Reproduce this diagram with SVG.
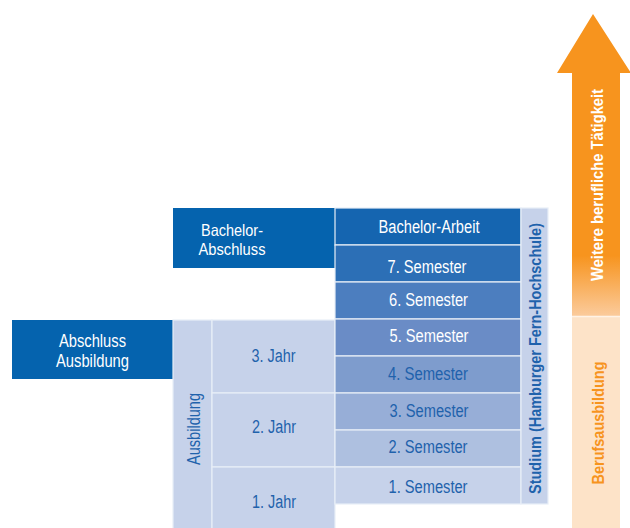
<svg xmlns="http://www.w3.org/2000/svg" width="630" height="528" viewBox="0 0 630 528">
<defs>
<linearGradient id="og" x1="0" y1="14" x2="0" y2="316" gradientUnits="userSpaceOnUse">
<stop offset="0" stop-color="#F7941E"/>
<stop offset="0.8" stop-color="#F7941E"/>
<stop offset="1" stop-color="#FBCB9C"/>
</linearGradient>
<style>
text{font-family:"Liberation Sans",Arial,sans-serif;font-size:18px;text-anchor:middle}
.w{fill:#FFFFFF}
.b{fill:#1F62AC}
.bold{font-weight:bold;font-size:16.5px}
.sm{font-size:16.5px}
.cell{stroke:#E8EEF7;stroke-width:1.2}
.dark{fill:#0563AE}
.light{fill:#C6D2EA}
</style>
</defs>
<rect width="630" height="528" fill="#FFFFFF"/>

<g id="arrow">
<polygon points="593,14 631,73 620,73 620,316 572,316 572,73 557,73" fill="url(#og)"/>
<rect x="572" y="317" width="48" height="211" fill="#FDE3C8"/>
<line x1="572" y1="316.5" x2="620" y2="316.5" stroke="#FFF3E6" stroke-width="1.5"/>
<text class="w bold" transform="translate(602.5,185) rotate(-90)" textLength="192" lengthAdjust="spacingAndGlyphs">Weitere berufliche Tätigkeit</text>
<text class="bold" fill="#F7941E" transform="translate(603.5,423) rotate(-90)" textLength="123" lengthAdjust="spacingAndGlyphs">Berufsausbildung</text>
</g>

<g id="bachelor-abschluss">
<rect class="dark" x="173" y="208" width="162" height="60"/>
<text class="w sm" x="232" y="235.5" textLength="62" lengthAdjust="spacingAndGlyphs">Bachelor-</text>
<text class="w sm" x="232" y="254.5" textLength="67" lengthAdjust="spacingAndGlyphs">Abschluss</text>
</g>

<g id="abschluss-ausbildung">
<rect class="dark" x="12" y="320" width="161" height="59"/>
<text class="w" x="92.5" y="346.7" textLength="67" lengthAdjust="spacingAndGlyphs">Abschluss</text>
<text class="w" x="92.5" y="366.7" textLength="73" lengthAdjust="spacingAndGlyphs">Ausbildung</text>
</g>

<g id="ausbildung">
<rect class="light cell" x="173" y="320" width="39" height="210"/>
<text class="b" transform="translate(199.5,429) rotate(-90)" textLength="72" lengthAdjust="spacingAndGlyphs">Ausbildung</text>
</g>

<g id="jahr3">
<rect class="light cell" x="212" y="320" width="123" height="73"/>
<text class="b" x="273.5" y="361.7" textLength="44" lengthAdjust="spacingAndGlyphs">3. Jahr</text>
</g>
<g id="jahr2">
<rect class="light cell" x="212" y="393" width="123" height="74"/>
<text class="b" x="274" y="433.3" textLength="44" lengthAdjust="spacingAndGlyphs">2. Jahr</text>
</g>
<g id="jahr1">
<rect class="light cell" x="212" y="467" width="123" height="63"/>
<text class="b" x="274" y="508.3" textLength="44" lengthAdjust="spacingAndGlyphs">1. Jahr</text>
</g>

<g id="bachelor-arbeit">
<rect class="cell" fill="#1565B0" x="335" y="208" width="186" height="37"/>
<text class="w" x="429" y="232.7" textLength="101" lengthAdjust="spacingAndGlyphs">Bachelor-Arbeit</text>
</g>
<g id="sem7">
<rect class="cell" fill="#2C6FB6" x="335" y="245" width="186" height="37"/>
<text class="w" x="427" y="272.7" textLength="79" lengthAdjust="spacingAndGlyphs">7. Semester</text>
</g>
<g id="sem6">
<rect class="cell" fill="#4C7EBF" x="335" y="282" width="186" height="37"/>
<text class="w" x="428.5" y="306" textLength="79" lengthAdjust="spacingAndGlyphs">6. Semester</text>
</g>
<g id="sem5">
<rect class="cell" fill="#6A8CC6" x="335" y="319" width="186" height="37"/>
<text class="w" x="429" y="341.7" textLength="79" lengthAdjust="spacingAndGlyphs">5. Semester</text>
</g>
<g id="sem4">
<rect class="cell" fill="#7E9CCD" x="335" y="356" width="186" height="37"/>
<text class="b" x="428" y="380" textLength="80" lengthAdjust="spacingAndGlyphs">4. Semester</text>
</g>
<g id="sem3">
<rect class="cell" fill="#97AED7" x="335" y="393" width="186" height="37"/>
<text class="b" x="429" y="417.3" textLength="79" lengthAdjust="spacingAndGlyphs">3. Semester</text>
</g>
<g id="sem2">
<rect class="cell" fill="#AEC0E0" x="335" y="430" width="186" height="37"/>
<text class="b" x="428" y="453" textLength="79" lengthAdjust="spacingAndGlyphs">2. Semester</text>
</g>
<g id="sem1">
<rect class="cell" fill="#C6D2EA" x="335" y="467" width="186" height="37"/>
<text class="b" x="428" y="492.7" textLength="79" lengthAdjust="spacingAndGlyphs">1. Semester</text>
</g>

<g id="studium">
<rect class="light cell" x="521" y="208" width="27" height="296"/>
<text class="b bold" transform="translate(541,358.5) rotate(-90)" textLength="271" lengthAdjust="spacingAndGlyphs">Studium (Hamburger Fern-Hochschule)</text>
</g>

<g id="connectors"></g>
</svg>
